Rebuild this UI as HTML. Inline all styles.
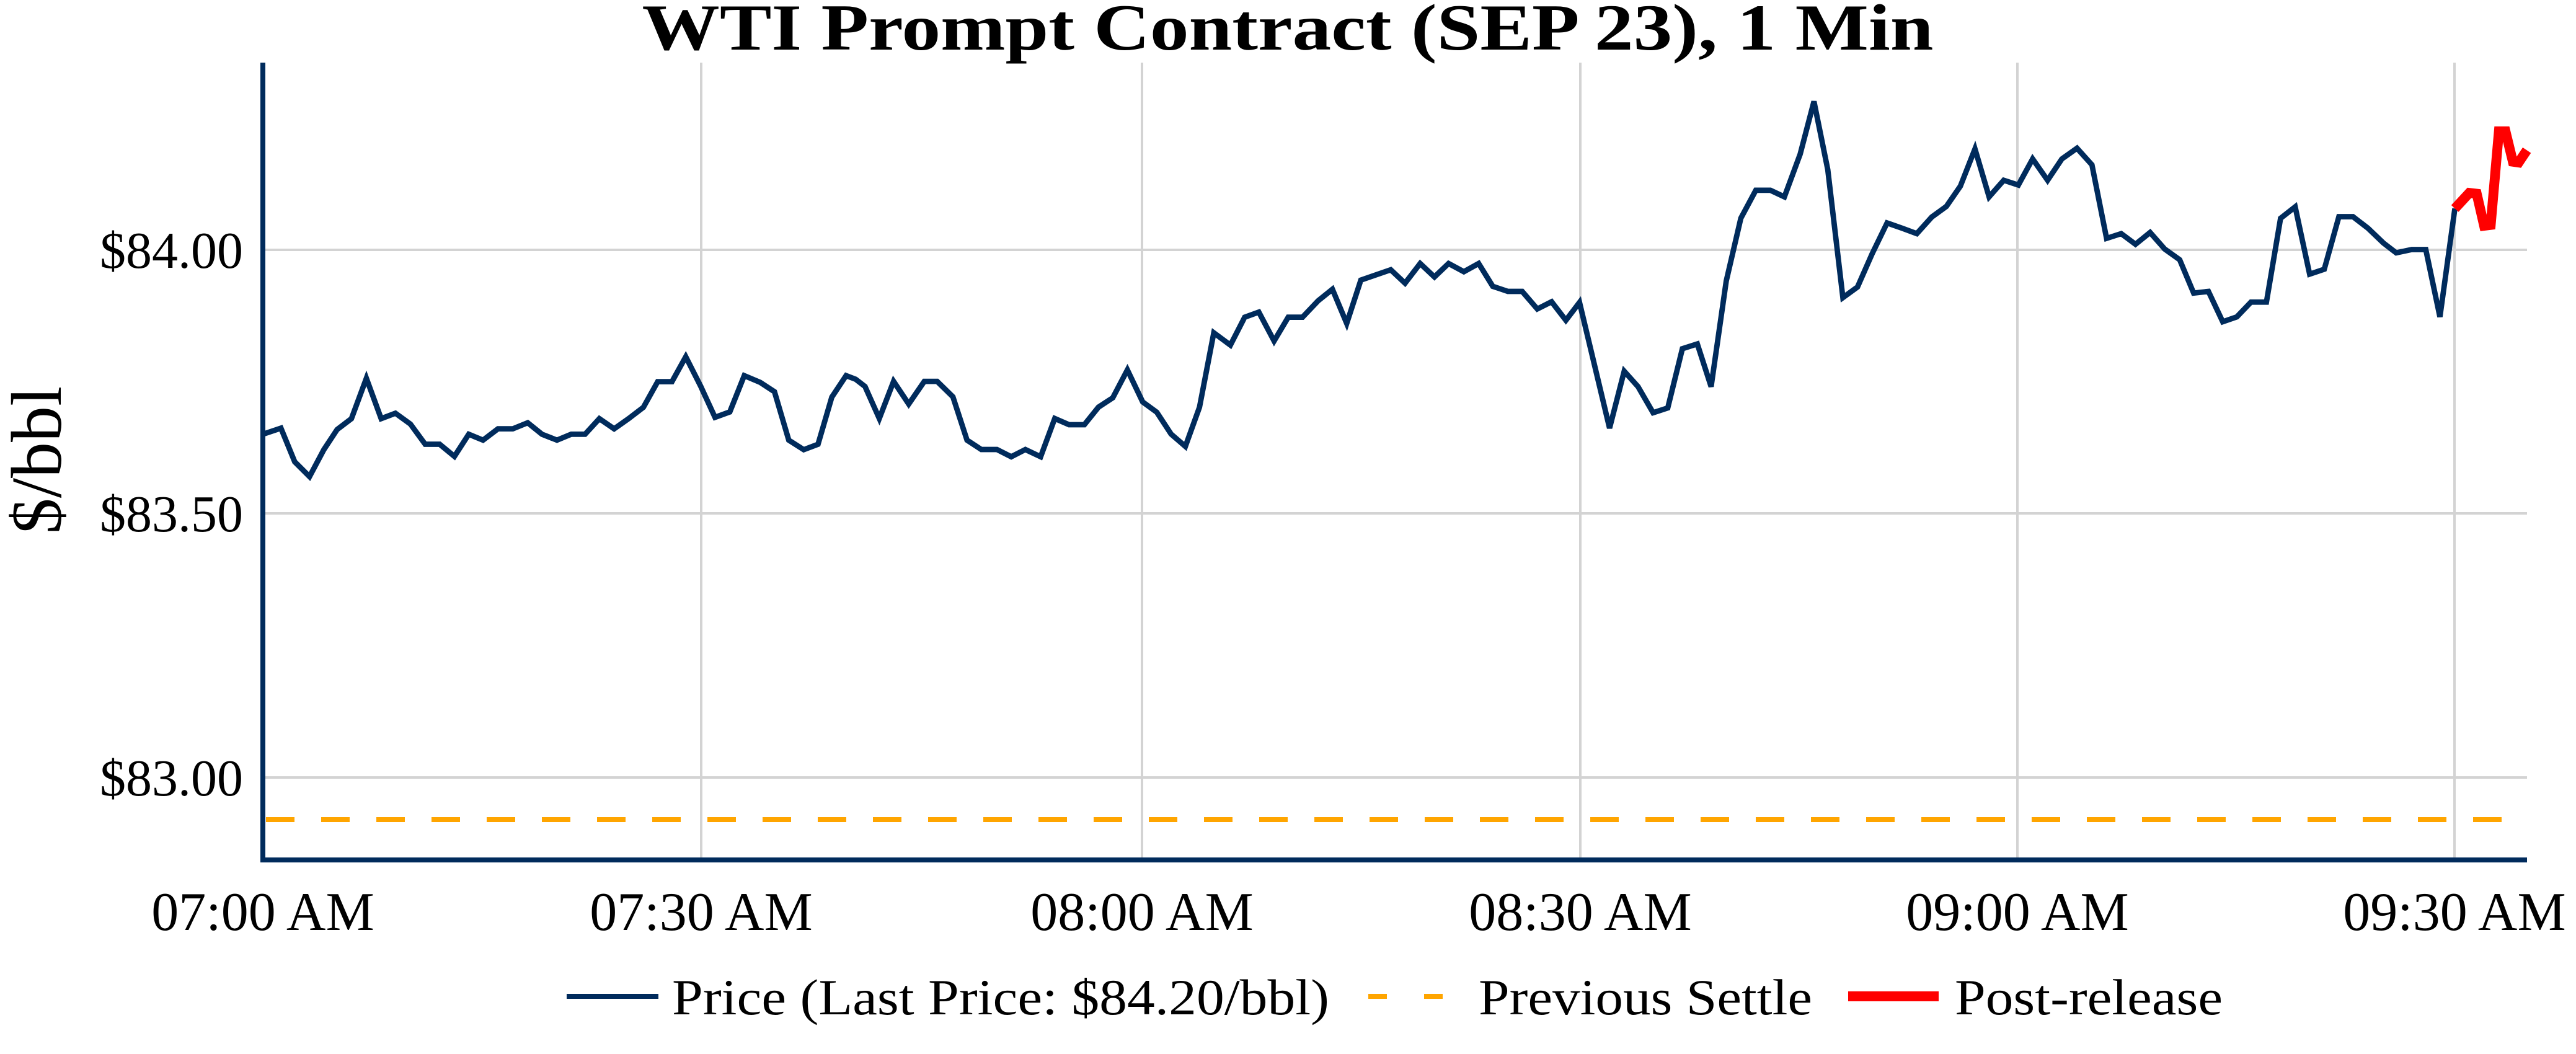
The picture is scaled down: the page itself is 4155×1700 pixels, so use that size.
<!DOCTYPE html>
<html><head><meta charset="utf-8"><style>
html,body{margin:0;padding:0;background:#fff;}
svg{display:block;}
text{font-family:"Liberation Serif",serif;fill:#000;}
</style></head><body>
<svg width="4155" height="1700" viewBox="0 0 4155 1700" xmlns="http://www.w3.org/2000/svg">
<rect width="4155" height="1700" fill="#fff"/>
<text x="2077" y="80" font-size="106" font-weight="bold" text-anchor="middle" textLength="2083" lengthAdjust="spacingAndGlyphs">WTI Prompt Contract (SEP 23), 1 Min</text>
<g stroke="#d3d3d3" stroke-width="4">
<line x1="428" y1="403" x2="4076" y2="403"/>
<line x1="428" y1="828" x2="4076" y2="828"/>
<line x1="428" y1="1254" x2="4076" y2="1254"/>
<line x1="1131" y1="101" x2="1131" y2="1385"/>
<line x1="1842" y1="101" x2="1842" y2="1385"/>
<line x1="2549" y1="101" x2="2549" y2="1385"/>
<line x1="3254" y1="101" x2="3254" y2="1385"/>
<line x1="3959" y1="101" x2="3959" y2="1385"/>
</g>
<line x1="429" y1="1322" x2="4076" y2="1322" stroke="#FFA500" stroke-width="8" stroke-dasharray="46 43"/>
<g transform="scale(2.65,2.648)" fill="none" stroke-linejoin="miter">
<polyline stroke="#002b5c" stroke-width="3.3" points="160,264.5 171,260.8 179.4,281.3 188.4,290.3 197.1,273.9 205.2,261.6 213.9,255 223,230.4 232,255 240.7,251.7 249.8,258.3 258.8,270.6 267.6,270.6 276.6,278 285.3,264.5 294,268.1 303.1,261.2 312.1,261.2 321.2,257.5 329.9,264.5 339,268.1 347.7,264.5 356.1,264.5 364.8,255 373.8,261.2 382.6,255 391.6,248.1 400.3,232.5 409,232.5 417.4,217.3 426.5,235.3 435.2,254.2 444.2,250.9 453,228.8 462.7,232.9 471.4,238.6 480.1,268.1 489.2,273.9 497.9,270.6 506.3,241.9 515,228.8 520.8,231 526.5,235.4 535.2,254.9 543.9,232.3 553.1,246.1 562.6,232.3 570.4,232.3 580,241.7 588.6,268.1 597.3,273.8 606.8,273.8 615.5,278.2 624.1,273.8 633.4,278.2 642,254.9 650.7,258.7 660,258.7 668.6,248 677.3,242.3 686.2,225.3 695.5,244.8 704.1,251.1 712.8,264.4 721.5,271.9 730.1,248 738.8,202.7 748.9,210.2 757.6,193.2 766.2,190.1 775.5,207.7 784.1,193.2 792.8,193.2 802.3,183.2 811,176.2 819.7,197 828.3,170.6 837.6,167.4 846.5,164.3 855.2,172.5 864.4,160.5 873.1,168.7 881.7,160.5 891,165.5 900,160.5 908.6,174.4 917.8,177.5 926.5,177.5 935.7,188.2 944.4,183.8 953.1,195.1 961.4,184.2 979.7,260.8 988.6,226.1 997,235.5 1006.2,251.4 1015.1,248.5 1024,212.4 1033.1,209.5 1041.5,235.5 1050.7,171.2 1059.6,132.9 1068.7,115.9 1077.6,115.9 1086.1,119.9 1095.7,93.9 1104.1,61.8 1112.5,103.3 1121.7,181.3 1130.6,174.8 1139.5,154.6 1148.6,135.8 1157.8,139 1166.7,142.3 1175.8,132.2 1184.7,125.7 1193.2,113.4 1202.1,90.7 1210.7,119.9 1219.6,109.8 1228.5,112.7 1237.2,96.8 1246.3,109.8 1255,96.8 1264.2,90.3 1273.3,100.4 1282.2,145.2 1291.1,142.3 1299.8,148.8 1308.7,141.6 1317.6,151.7 1326.7,158.2 1335.2,178.5 1344.2,177.5 1352.9,196 1361.5,193 1370.1,184 1379.5,184 1388.1,133 1397,126 1405.8,167 1414.7,164 1423.6,132 1432.2,132 1441.3,139 1450.7,148 1458.5,154 1467.9,152 1476.5,152 1485.1,193 1494.2,127"/>
<polyline stroke="#ff0000" stroke-width="6" points="1494.2,127 1503,117.5 1507.5,118 1512,137.5 1516,137 1521,80 1525,80 1529.5,98.5 1533,99 1538,91.5"/>
</g>
<line x1="424" y1="101" x2="424" y2="1391" stroke="#002b5c" stroke-width="8"/>
<line x1="420" y1="1387" x2="4076" y2="1387" stroke="#002b5c" stroke-width="8"/>
<g font-size="84" text-anchor="end">
<text x="392" y="432">$84.00</text>
<text x="392" y="857">$83.50</text>
<text x="392" y="1283">$83.00</text>
</g>
<text transform="translate(98,742) rotate(-90)" font-size="116" text-anchor="middle">$/bbl</text>
<g font-size="88" text-anchor="middle">
<text x="424" y="1500">07:00 AM</text>
<text x="1131" y="1500">07:30 AM</text>
<text x="1842" y="1500">08:00 AM</text>
<text x="2549" y="1500">08:30 AM</text>
<text x="3254" y="1500">09:00 AM</text>
<text x="3959" y="1500">09:30 AM</text>
</g>
<line x1="914" y1="1607" x2="1062" y2="1607" stroke="#002b5c" stroke-width="8"/>
<line x1="2207" y1="1607" x2="2353" y2="1607" stroke="#FFA500" stroke-width="8" stroke-dasharray="30 60"/>
<line x1="2981" y1="1607" x2="3127" y2="1607" stroke="#ff0000" stroke-width="16"/>
<g font-size="82">
<text x="1084" y="1636" textLength="1060" lengthAdjust="spacingAndGlyphs">Price (Last Price: $84.20/bbl)</text>
<text x="2385" y="1636" textLength="538" lengthAdjust="spacingAndGlyphs">Previous Settle</text>
<text x="3153" y="1636" textLength="432" lengthAdjust="spacingAndGlyphs">Post-release</text>
</g>
</svg>
</body></html>
